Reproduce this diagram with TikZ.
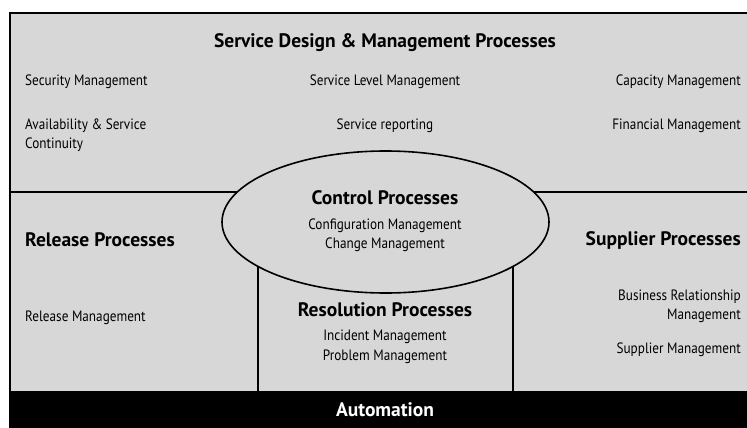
\documentclass[tikz,border=0pt]{standalone}
\usepackage{fontspec}
\setmainfont{PT Sans}
\newfontfamily\itemfont[FakeStretch=0.88]{PT Sans}
\usetikzlibrary{shapes.geometric}

\definecolor{panelgray}{HTML}{D7D7D7}

\tikzset{
  frame/.style={line width=2pt, draw=black},
  divider/.style={line width=1.6pt, draw=black},
  heading/.style={inner sep=0pt, font=\bfseries\fontsize{19.5}{22}\selectfont},
  item/.style={inner sep=0pt, font=\itemfont\fontsize{15}{19.5}\selectfont},
}

\begin{document}
\begin{tikzpicture}[x=1pt, y=-1pt]
  \useasboundingbox (0,0) rectangle (747,428);
  \fill[white] (0,0) rectangle (747,428);

  % grey body of the chart
  \fill[panelgray] (10,13) rectangle (747,391);

  % dividers between the process areas
  \draw[divider] (10,192) -- (385,192);
  \draw[divider] (385,192) -- (747,192);
  \draw[divider] (258,391) -- (258,222);
  \draw[divider] (513,391) -- (513,222);

  % the control process ellipse sits on top of the dividers
  \node[ellipse, draw=black, fill=panelgray, line width=1.6pt,
        minimum width=327pt, minimum height=142pt, inner sep=0pt]
        (control) at (385.5,222) {};

  % automation band
  \fill[black] (10,391) rectangle (747,428);

  % outer frame
  \draw[frame] (10,428) -- (10,13) -- (747,13);

  % service design area
  \node[heading] (sdtitle) at (385,43) {Service Design \& Management Processes};
  \node[item, anchor=west] (secm) at (25,82) {Security Management};
  \node[item] (slm) at (385,82) {Service Level Management};
  \node[item, anchor=east] (capm) at (741,82) {Capacity Management};
  \node[item, anchor=west, align=left] (avail) at (25,135) {Availability \& Service\\Continuity};
  \node[item] (srep) at (385,126) {Service reporting};
  \node[item, anchor=east] (finm) at (741,126) {Financial Management};

  % control processes
  \node[heading] (ctitle) at (385,198) {Control Processes};
  \node[item, align=center] (citems) at (385,235) {Configuration Management\\Change Management};

  % release processes
  \node[heading, anchor=west] (rtitle) at (25,240) {Release Processes};
  \node[item, anchor=west] (relm) at (25,318) {Release Management};

  % resolution processes
  \node[heading] (restitle) at (385,310) {Resolution Processes};
  \node[item, align=center] (resitems) at (385,347) {Incident Management\\Problem Management};

  % supplier processes
  \node[heading, anchor=east] (suptitle) at (741,240) {Supplier Processes};
  \node[item, anchor=east, align=right] (brm) at (741,306.5) {Business Relationship\\Management};
  \node[item, anchor=east] (supm) at (741,350) {Supplier Management};

  % automation
  \node[heading, text=white] (auto) at (385,410) {Automation};
\end{tikzpicture}
\end{document}
